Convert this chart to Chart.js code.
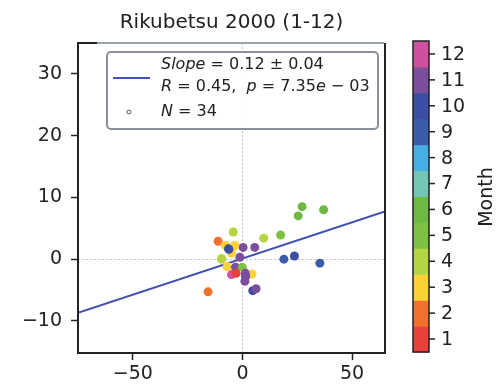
<!DOCTYPE html>
<html><head><meta charset="utf-8">
<script src="https://cdn.jsdelivr.net/npm/chart.js@4"></script>
<style>html,body{margin:0;padding:0;background:#fff;}#wrap{width:496px;height:387px;}</style>
</head><body><div id="wrap"><canvas id="c" width="496" height="387"></canvas></div>
<script>
const chartTitle = "Rikubetsu 2000 (1-12)";
const xs = [27.2, 37.0, 25.4, 17.4, 9.7, -4.2, -11.1, -7.8, -3.5, -6.3, 0.3, 5.6, -5.0, -9.6, -1.2, 18.9, 23.7, 35.3, -7.0, -3.2, -0.1, -5.0, -2.9, 1.4, 4.4, 1.4, 1.1, 4.7, 6.2, -15.7, -3.7, 1.3, -6.2, -9.5];
const ys = [8.5, 8.0, 7.0, 3.9, 3.4, 4.4, 2.9, 2.2, 2.2, 1.7, 1.9, 1.9, 1.0, 0.0, 0.3, 0.0, 0.5, -0.65, -1.2, -1.3, -1.3, -2.5, -2.3, -2.3, -2.4, -2.8, -3.6, -5.1, -4.8, -5.3, 2.1, -2.4, 1.6, 0.1];
const months = [6, 6, 6, 5, 4, 4, 2, 3, 3, 10, 11, 11, 3, 4, 11, 9, 10, 9, 3, 11, 5, 12, 1, 11, 3, 10, 11, 10, 11, 2, 3, 11, 10, 4];
const monthLabels = ['1','2','3','4','5','6','7','8','9','10','11','12'];
const monthColors = ['#e8413c','#f0702c','#fbd232','#b5d443','#7dc142','#6db944','#74c6b5','#45aee2','#3b5ca8','#3a4ea3','#7b4f9e','#d14f9f'];
const xTicks = [-50, 0, 50];
const yTicks = [-10, 0, 10, 20, 30];
const xRange = [-75, 65];
const yRange = [-15.2, 35];
const fitSlope = 0.117;
const fitIntercept = 0.1;
const statSlope = '0.12', statErr = '0.04', statR = '0.45', statP = '7.35', statPexp = '03', statN = '34';
const colorbarLabel = 'Month';

const FONT = '"DejaVu Sans", sans-serif';
const TXT = '#222222';
const fmt = v => v < 0 ? '\u2212' + Math.abs(v) : String(v);

const points = xs.map((x, i) => ({x: x, y: ys[i]}));
const fitLine = xRange.map(x => ({x: x, y: fitSlope * x + fitIntercept}));

function drawRich(ctx, x, y, parts, size) {
  ctx.textBaseline = 'middle';
  ctx.textAlign = 'left';
  for (const [t, it] of parts) {
    ctx.font = (it ? 'italic ' : '') + size + 'px ' + FONT;
    ctx.fillText(t, x, y);
    x += ctx.measureText(t).width;
  }
}

const decor = {
  id: 'decor',
  beforeDatasetsDraw(chart) {
    const {ctx, chartArea: a, scales: {x, y}} = chart;
    ctx.save();
    ctx.strokeStyle = '#c4c4c4';
    ctx.lineWidth = 1;
    ctx.setLineDash([2, 2]);
    const x0 = Math.round(x.getPixelForValue(0)) + 0.5;
    const y0 = Math.round(y.getPixelForValue(0)) + 0.5;
    ctx.beginPath(); ctx.moveTo(x0, a.top); ctx.lineTo(x0, a.bottom); ctx.stroke();
    ctx.beginPath(); ctx.moveTo(a.left, y0); ctx.lineTo(a.right, y0); ctx.stroke();
    ctx.restore();
  },
  afterDraw(chart) {
    const {ctx, chartArea: a} = chart;
    ctx.save();
    // spines
    ctx.lineWidth = 2;
    ctx.strokeStyle = TXT;
    ctx.beginPath();
    ctx.moveTo(a.right, a.top); ctx.lineTo(a.right, a.bottom); ctx.lineTo(a.left, a.bottom); ctx.lineTo(a.left, a.top); ctx.lineTo(a.left + 19, a.top);
    ctx.stroke();
    ctx.strokeStyle = '#9aa2aa';
    ctx.beginPath(); ctx.moveTo(a.left + 19, a.top); ctx.lineTo(a.right - 1, a.top); ctx.stroke();
    // title
    ctx.fillStyle = TXT;
    ctx.font = '20px ' + FONT;
    ctx.textAlign = 'center';
    ctx.textBaseline = 'middle';
    ctx.fillText(chartTitle, (a.left + a.right) / 2, 23);
    // legend
    const lx = 107, ly = 52, lw = 271, lh = 77;
    ctx.fillStyle = 'rgba(255,255,255,0.9)';
    ctx.strokeStyle = '#8a9098';
    ctx.lineWidth = 2;
    ctx.beginPath();
    ctx.roundRect(lx, ly, lw, lh, 4);
    ctx.fill(); ctx.stroke();
    ctx.strokeStyle = '#4454b8';
    ctx.lineWidth = 2;
    ctx.beginPath(); ctx.moveTo(113, 78); ctx.lineTo(150, 78); ctx.stroke();
    ctx.strokeStyle = '#555';
    ctx.lineWidth = 1;
    ctx.beginPath(); ctx.arc(129, 112, 2, 0, Math.PI * 2); ctx.stroke();
    ctx.fillStyle = TXT;
    drawRich(ctx, 161, 65, [['Slope', 1], [' = ' + statSlope + ' \u00b1 ' + statErr, 0]], 16);
    drawRich(ctx, 161, 87, [['R', 1], [' = ' + statR + ',  ', 0], ['p', 1], [' = ' + statP, 0], ['e', 1], [' \u2212 ' + statPexp, 0]], 16);
    drawRich(ctx, 161, 112, [['N', 1], [' = ' + statN, 0]], 16);
    // colorbar
    const cbx = 413, cbw = 16, cbTop = 41, cbBot = 352;
    const seg = (cbBot - cbTop) / monthColors.length;
    monthColors.forEach((c, i) => {
      ctx.fillStyle = c;
      ctx.fillRect(cbx, cbBot - (i + 1) * seg, cbw, seg + 0.5);
    });
    ctx.strokeStyle = TXT;
    ctx.lineWidth = 1.5;
    ctx.strokeRect(cbx, cbTop, cbw, cbBot - cbTop);
    ctx.fillStyle = TXT;
    ctx.font = '19px ' + FONT;
    ctx.textAlign = 'left';
    ctx.textBaseline = 'middle';
    monthLabels.forEach((m, i) => {
      const yy = cbBot - (i + 0.5) * seg;
      ctx.beginPath(); ctx.moveTo(cbx + cbw, yy); ctx.lineTo(cbx + cbw + 6, yy); ctx.stroke();
      ctx.fillText(m, cbx + cbw + 12, yy + 1);
    });
    ctx.save();
    ctx.translate(487, 197);
    ctx.rotate(-Math.PI / 2);
    ctx.textAlign = 'center';
    ctx.font = '19px ' + FONT;
    ctx.fillText(colorbarLabel, 0, 0);
    ctx.restore();
    ctx.restore();
  }
};

const tickFont = {family: FONT, size: 19};
new Chart(document.getElementById('c'), {
  type: 'scatter',
  data: {
    datasets: [
      {
        data: points,
        pointBackgroundColor: months.map(m => monthColors[m - 1]),
        pointBorderWidth: 0,
        pointRadius: 4.5,
        order: 1
      },
      {
        type: 'line',
        data: fitLine,
        borderColor: '#4050b4',
        borderWidth: 2,
        pointRadius: 0,
        fill: false,
        order: 2
      }
    ]
  },
  options: {
    responsive: false,
    animation: false,
    devicePixelRatio: 1,
    layout: {padding: {left: 0, top: 43, right: 111, bottom: 0}},
    plugins: {legend: {display: false}, tooltip: {enabled: false}, title: {display: false}},
    scales: {
      x: {
        type: 'linear', min: xRange[0], max: xRange[1],
        afterBuildTicks: s => { s.ticks = xTicks.map(v => ({value: v})); },
        afterFit: s => { s.height = 34; },
        ticks: {font: tickFont, color: TXT, padding: 3, maxRotation: 0, callback: v => fmt(v)},
        grid: {drawOnChartArea: false, drawTicks: true, tickLength: 7, tickColor: TXT, tickWidth: 1.5},
        border: {display: false}
      },
      y: {
        type: 'linear', min: yRange[0], max: yRange[1],
        afterBuildTicks: s => { s.ticks = yTicks.map(v => ({value: v})); },
        afterFit: s => { s.width = 78; },
        ticks: {font: tickFont, color: TXT, padding: 9, callback: v => fmt(v)},
        grid: {drawOnChartArea: false, drawTicks: true, tickLength: 7, tickColor: TXT, tickWidth: 1.5},
        border: {display: false}
      }
    }
  },
  plugins: [decor]
});
</script>
</body></html>
